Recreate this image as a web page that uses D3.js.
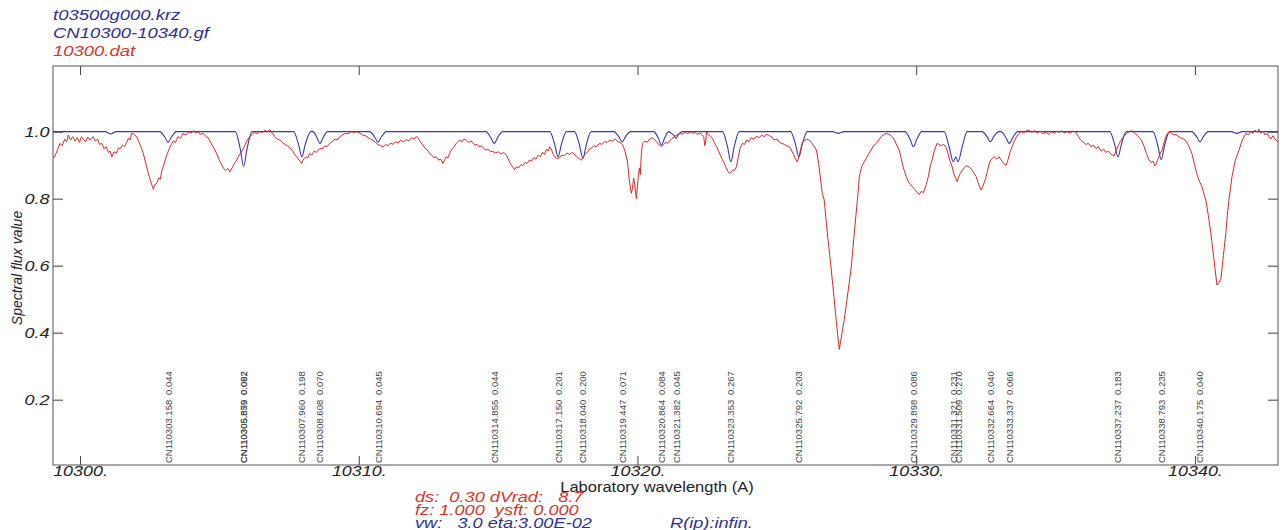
<!DOCTYPE html>
<html>
<head>
<meta charset="utf-8">
<script src="https://cdn.jsdelivr.net/npm/d3@7"></script>
<style>
  body { margin: 0; background: #fff; }
  text { font-family: "Liberation Sans", Arial, sans-serif; }
</style>
</head>
<body>
<div id="chart"></div>
<script>
// observed spectrum (10300.dat) : [wavelength, flux]
const observed = [
  [10299.05,.921],[10299.14,.935],[10299.20,.948],[10299.28,.965],[10299.36,.958],[10299.45,.978],
  [10299.52,.970],[10299.58,.990],[10299.66,.975],[10299.74,.985],[10299.82,.972],[10299.90,.982],
  [10299.98,.968],[10300.05,.985],[10300.11,.978],[10300.20,.970],[10300.28,.984],[10300.36,.975],
  [10300.47,.985],[10300.55,.972],[10300.63,.978],[10300.70,.962],[10300.78,.965],[10300.86,.950],
  [10300.94,.955],[10301.02,.938],[10301.08,.942],[10301.14,.925],[10301.22,.940],[10301.30,.935],
  [10301.38,.952],[10301.43,.948],[10301.52,.960],[10301.60,.955],[10301.67,.968],[10301.74,.980],
  [10301.80,.975],[10301.85,.995],[10301.93,.992],[10302.03,.985],[10302.12,.968],[10302.20,.952],
  [10302.27,.935],[10302.36,.905],[10302.45,.876],[10302.54,.850],[10302.60,.836],[10302.63,.828],
  [10302.68,.842],[10302.75,.845],[10302.82,.862],[10302.88,.858],[10302.93,.882],[10303.02,.905],
  [10303.11,.930],[10303.18,.945],[10303.26,.960],[10303.34,.972],[10303.42,.968],[10303.52,.985],
  [10303.60,.980],[10303.70,.995],[10303.80,.990],[10303.90,1.000],[10303.98,.995],[10304.06,1.003],
  [10304.15,.996],[10304.24,1.000],[10304.32,.992],[10304.42,.995],[10304.52,.985],[10304.60,.982],
  [10304.66,.972],[10304.74,.960],[10304.82,.948],[10304.90,.935],[10304.98,.918],[10305.06,.905],
  [10305.14,.892],[10305.22,.884],[10305.30,.890],[10305.38,.880],[10305.46,.892],[10305.54,.905],
  [10305.62,.915],[10305.70,.928],[10305.78,.938],[10305.85,.948],[10305.93,.962],[10306.00,.975],
  [10306.09,.985],[10306.18,.992],[10306.27,.998],[10306.36,.994],[10306.45,1.000],[10306.55,.998],
  [10306.64,1.004],[10306.72,1.000],[10306.81,1.006],[10306.90,.995],[10306.99,.985],[10307.08,.978],
  [10307.17,.975],[10307.26,.968],[10307.35,.962],[10307.44,.958],[10307.53,.952],[10307.62,.944],
  [10307.70,.932],[10307.78,.925],[10307.86,.915],[10307.95,.905],[10308.02,.918],[10308.10,.925],
  [10308.17,.922],[10308.24,.935],[10308.32,.930],[10308.40,.942],[10308.48,.938],[10308.60,.950],
  [10308.68,.948],[10308.78,.958],[10308.86,.955],[10308.96,.965],[10309.05,.970],[10309.14,.978],
  [10309.23,.975],[10309.32,.985],[10309.42,.990],[10309.52,.995],[10309.62,.994],[10309.74,1.000],
  [10309.84,.998],[10309.94,1.000],[10310.04,.995],[10310.14,.990],[10310.24,.988],[10310.34,.982],
  [10310.42,.978],[10310.51,.975],[10310.60,.968],[10310.68,.962],[10310.78,.958],[10310.87,.955],
  [10310.96,.962],[10311.05,.958],[10311.14,.966],[10311.23,.962],[10311.32,.970],[10311.41,.966],
  [10311.50,.974],[10311.60,.970],[10311.71,.976],[10311.80,.972],[10311.90,.982],[10311.98,.978],
  [10312.07,.985],[10312.14,.980],[10312.22,.968],[10312.30,.960],[10312.38,.950],[10312.46,.945],
  [10312.54,.935],[10312.62,.930],[10312.70,.922],[10312.78,.925],[10312.86,.915],[10312.94,.918],
  [10313.02,.905],[10313.08,.915],[10313.14,.925],[10313.20,.922],[10313.26,.935],[10313.34,.948],
  [10313.42,.955],[10313.50,.965],[10313.56,.970],[10313.62,.975],[10313.70,.970],[10313.78,.978],
  [10313.86,.975],[10313.94,.968],[10314.02,.972],[10314.09,.968],[10314.16,.960],[10314.24,.962],
  [10314.32,.955],[10314.40,.958],[10314.48,.950],[10314.56,.945],[10314.64,.948],[10314.72,.940],
  [10314.80,.942],[10314.90,.936],[10315.00,.940],[10315.10,.934],[10315.20,.938],[10315.30,.930],
  [10315.38,.915],[10315.46,.902],[10315.52,.895],[10315.59,.886],[10315.66,.895],[10315.74,.892],
  [10315.82,.902],[10315.88,.898],[10315.96,.908],[10316.04,.905],[10316.12,.915],[10316.20,.912],
  [10316.28,.922],[10316.36,.918],[10316.44,.930],[10316.52,.925],[10316.59,.938],[10316.66,.932],
  [10316.74,.948],[10316.80,.942],[10316.85,.955],[10316.92,.945],[10316.98,.932],[10317.03,.925],
  [10317.10,.920],[10317.20,.922],[10317.28,.930],[10317.36,.928],[10317.46,.936],[10317.56,.932],
  [10317.67,.938],[10317.76,.930],[10317.84,.925],[10317.92,.918],[10317.99,.915],[10318.06,.925],
  [10318.14,.935],[10318.22,.940],[10318.28,.948],[10318.36,.952],[10318.44,.958],[10318.52,.955],
  [10318.64,.965],[10318.72,.962],[10318.82,.970],[10318.92,.968],[10319.00,.975],[10319.10,.972],
  [10319.20,.978],[10319.30,.970],[10319.38,.968],[10319.46,.962],[10319.54,.945],[10319.60,.925],
  [10319.64,.910],[10319.70,.860],[10319.74,.835],[10319.78,.816],[10319.82,.830],[10319.86,.862],
  [10319.89,.850],[10319.93,.820],[10319.96,.800],[10320.00,.840],[10320.04,.875],[10320.07,.892],
  [10320.10,.872],[10320.14,.935],[10320.18,.965],[10320.26,.972],[10320.34,.968],[10320.44,.978],
  [10320.54,.982],[10320.62,.975],[10320.70,.968],[10320.78,.960],[10320.86,.955],[10320.94,.962],
  [10321.02,.968],[10321.08,.965],[10321.15,.972],[10321.24,.980],[10321.32,.985],[10321.42,.990],
  [10321.51,.995],[10321.60,.992],[10321.70,.998],[10321.80,.994],[10321.90,.999],[10321.97,.995],
  [10322.06,.998],[10322.14,.992],[10322.24,.996],[10322.33,.990],[10322.38,.985],[10322.41,.958],
  [10322.44,.965],[10322.48,1.000],[10322.54,.992],[10322.62,.985],[10322.69,.980],[10322.76,.968],
  [10322.84,.955],[10322.92,.940],[10322.98,.928],[10323.05,.916],[10323.12,.905],[10323.18,.892],
  [10323.24,.882],[10323.30,.876],[10323.36,.880],[10323.42,.886],[10323.48,.884],[10323.55,.895],
  [10323.62,.925],[10323.68,.950],[10323.76,.965],[10323.84,.962],[10323.92,.975],[10324.00,.970],
  [10324.08,.982],[10324.18,.978],[10324.27,.987],[10324.36,.982],[10324.46,.990],[10324.54,.985],
  [10324.64,.992],[10324.73,.988],[10324.82,.984],[10324.90,.975],[10325.00,.978],[10325.09,.968],
  [10325.18,.965],[10325.27,.962],[10325.36,.958],[10325.45,.955],[10325.52,.945],[10325.60,.932],
  [10325.66,.920],[10325.73,.910],[10325.80,.925],[10325.86,.950],[10325.92,.968],[10325.99,.972],
  [10326.06,.978],[10326.16,.975],[10326.24,.968],[10326.32,.958],[10326.42,.945],[10326.50,.905],
  [10326.58,.850],[10326.63,.816],[10326.70,.796],[10326.81,.698],[10326.94,.598],[10327.06,.498],
  [10327.15,.420],[10327.24,.350],[10327.33,.395],[10327.42,.440],[10327.55,.520],[10327.67,.596],
  [10327.78,.700],[10327.89,.796],[10327.96,.866],[10328.04,.895],[10328.12,.908],[10328.21,.920],
  [10328.30,.935],[10328.38,.945],[10328.47,.958],[10328.57,.965],[10328.66,.975],[10328.74,.985],
  [10328.82,.990],[10328.92,.995],[10329.02,.992],[10329.14,.985],[10329.22,.975],[10329.30,.960],
  [10329.39,.945],[10329.46,.920],[10329.54,.892],[10329.64,.866],[10329.72,.850],[10329.80,.842],
  [10329.86,.836],[10329.94,.828],[10330.02,.820],[10330.11,.812],[10330.18,.822],[10330.26,.818],
  [10330.36,.842],[10330.44,.868],[10330.50,.895],[10330.57,.916],[10330.64,.940],[10330.70,.955],
  [10330.75,.965],[10330.82,.962],[10330.90,.958],[10330.98,.962],[10331.08,.952],[10331.14,.935],
  [10331.20,.915],[10331.29,.895],[10331.36,.872],[10331.42,.860],[10331.47,.851],[10331.52,.865],
  [10331.58,.875],[10331.65,.885],[10331.72,.892],[10331.80,.898],[10331.90,.895],[10331.98,.888],
  [10332.06,.878],[10332.15,.866],[10332.22,.848],[10332.28,.835],[10332.33,.826],[10332.38,.835],
  [10332.44,.848],[10332.51,.866],[10332.58,.892],[10332.65,.912],[10332.72,.920],[10332.80,.926],
  [10332.88,.918],[10332.97,.925],[10333.05,.915],[10333.14,.905],[10333.23,.900],[10333.30,.918],
  [10333.37,.940],[10333.44,.955],[10333.52,.972],[10333.60,.985],[10333.69,.995],[10333.78,1.000],
  [10333.86,.996],[10333.96,1.004],[10334.05,1.005],[10334.14,.998],[10334.24,1.003],[10334.34,.996],
  [10334.44,1.002],[10334.54,.994],[10334.66,.998],[10334.76,.992],[10334.86,1.000],[10334.96,.995],
  [10335.05,1.002],[10335.13,.998],[10335.22,1.002],[10335.32,.996],[10335.42,1.000],[10335.52,.995],
  [10335.62,1.002],[10335.73,.998],[10335.82,.985],[10335.90,.975],[10336.00,.968],[10336.09,.962],
  [10336.18,.965],[10336.27,.955],[10336.36,.960],[10336.45,.950],[10336.54,.955],[10336.63,.942],
  [10336.72,.948],[10336.81,.938],[10336.90,.942],[10337.00,.932],[10337.10,.928],[10337.18,.945],
  [10337.26,.960],[10337.32,.970],[10337.38,.978],[10337.46,.988],[10337.56,.995],[10337.64,1.000],
  [10337.74,1.003],[10337.84,.995],[10337.94,.988],[10338.02,.980],[10338.10,.972],[10338.18,.955],
  [10338.26,.935],[10338.34,.918],[10338.42,.908],[10338.50,.912],[10338.56,.898],[10338.60,.902],
  [10338.66,.915],[10338.74,.932],[10338.82,.945],[10338.90,.970],[10338.98,.990],[10339.07,1.000],
  [10339.16,.995],[10339.25,.990],[10339.34,.992],[10339.43,.984],[10339.52,.980],[10339.60,.978],
  [10339.68,.972],[10339.76,.960],[10339.83,.948],[10339.89,.935],[10339.98,.905],[10340.06,.875],
  [10340.16,.852],[10340.25,.836],[10340.32,.815],[10340.39,.796],[10340.48,.750],[10340.57,.698],
  [10340.68,.620],[10340.79,.542],[10340.86,.548],[10340.93,.560],[10341.02,.630],[10341.11,.698],
  [10341.16,.750],[10341.22,.796],[10341.33,.866],[10341.45,.915],[10341.58,.945],[10341.70,.975],
  [10341.83,.995],[10341.92,.990],[10342.00,1.000],[10342.08,.995],[10342.16,1.005],[10342.24,.998],
  [10342.29,1.008],[10342.36,.995],[10342.44,1.002],[10342.52,.990],[10342.60,.995],[10342.65,.985],
  [10342.72,.978],[10342.80,.988],[10342.90,.975],[10342.98,.970]
];

// synthetic spectrum (t03500g000.krz + CN10300-10340.gf) : [wavelength, flux]
const synthetic = [
  [10299.03,1.000],[10300.90,1.000],[10301.10,0.993],[10301.30,1.000],
  [10302.86,1.000],[10303.04,0.984],[10303.16,0.968],[10303.28,0.984],[10303.46,1.000],
  [10305.57,1.000],[10305.75,0.948],[10305.87,0.896],[10305.99,0.948],[10306.17,1.000],
  [10307.66,1.000],[10307.84,0.962],[10307.96,0.925],[10308.08,0.962],[10308.28,1.000],
  [10308.36,1.000],[10308.50,0.982],[10308.61,0.965],[10308.72,0.982],[10308.88,1.000],
  [10310.39,1.000],[10310.57,0.984],[10310.69,0.968],[10310.81,0.984],[10310.99,1.000],
  [10314.56,1.000],[10314.74,0.982],[10314.86,0.965],[10314.98,0.982],[10315.16,1.000],
  [10316.85,1.000],[10317.03,0.962],[10317.15,0.925],[10317.27,0.962],[10317.45,1.000],
  [10317.74,1.000],[10317.92,0.960],[10318.04,0.920],[10318.16,0.960],[10318.34,1.000],
  [10319.15,1.000],[10319.33,0.985],[10319.45,0.970],[10319.57,0.985],[10319.75,1.000],
  [10320.58,1.000],[10320.75,0.980],[10320.86,0.960],[10320.97,0.980],[10321.12,1.000],
  [10321.22,0.995],[10321.30,0.990],[10321.38,0.980],[10321.46,0.990],[10321.62,1.000],
  [10323.05,1.000],[10323.23,0.955],[10323.35,0.910],[10323.47,0.955],[10323.65,1.000],
  [10325.49,1.000],[10325.67,0.962],[10325.79,0.925],[10325.91,0.962],[10326.09,1.000],
  [10327.00,1.000],[10327.20,0.995],[10327.40,1.000],
  [10329.60,1.000],[10329.78,0.977],[10329.90,0.955],[10330.02,0.977],[10330.20,1.000],
  [10331.00,1.000],[10331.18,0.955],[10331.33,0.910],[10331.42,0.925],[10331.50,0.910],
  [10331.65,0.955],[10331.83,1.000],
  [10332.36,1.000],[10332.54,0.985],[10332.66,0.970],[10332.78,0.985],[10332.96,1.000],
  [10333.04,1.000],[10333.22,0.982],[10333.34,0.965],[10333.46,0.982],[10333.64,1.000],
  [10336.94,1.000],[10337.12,0.962],[10337.24,0.925],[10337.36,0.962],[10337.54,1.000],
  [10338.49,1.000],[10338.67,0.958],[10338.79,0.916],[10338.91,0.958],[10339.09,1.000],
  [10339.88,1.000],[10340.06,0.985],[10340.18,0.970],[10340.30,0.985],[10340.48,1.000],
  [10341.30,1.000],[10341.50,0.995],[10341.70,1.000],[10342.98,1.000]
];

// line identifications
const lineWave = [10303.158,10305.859,10305.879,10307.960,10308.608,10310.694,10314.855,
  10317.150,10318.040,10319.447,10320.864,10321.382,10323.353,10325.792,10329.898,
  10331.321,10331.509,10332.664,10333.337,10337.237,10338.793,10340.175];
const lineId = lineWave.map(w => "CN1" + w.toFixed(3));
const lineStrength = ["0.044","0.062","0.092","0.198","0.070","0.045","0.044","0.201","0.200",
  "0.071","0.084","0.045","0.267","0.203","0.086","0.231","0.270","0.040","0.066","0.183",
  "0.235","0.040"];

const xTicks = [10300, 10310, 10320, 10330, 10340];
const yTicks = [0.2, 0.4, 0.6, 0.8, 1.0];
const fileNames = ["t03500g000.krz", "CN10300-10340.gf", "10300.dat"];
const paramLines = ["ds:  0.30 dVrad:   8.7", "fz: 1.000  ysft: 0.000", "vw:   3.0 eta:3.00E-02"];
const resolution = "R(ip):infin.";

const width = 1282, height = 530;
const plotLeft = 53, plotRight = 1278, plotTop = 66, plotBottom = 465;
const blue = "#3a3aa0", red = "#d42a2a", blueText = "#2e3192", redText = "#d9342b";

const svg = d3.select("#chart").append("svg")
  .attr("width", width).attr("height", height);

const x = d3.scaleLinear().domain([10299.03, 10342.98]).range([plotLeft, plotRight]);
const y = d3.scaleLinear().domain([0.005, 1.196]).range([plotBottom, plotTop]);

// file names, top left
svg.append("g").selectAll("text")
  .data(fileNames)
  .enter().append("text")
  .attr("transform", (d, i) => `translate(${plotLeft},${20 + i * 18}) scale(1.32,1)`)
  .attr("fill", (d, i) => i < 2 ? blueText : redText)
  .style("font-size", "14px").style("font-style", "italic")
  .text(d => d);

// axes, ticks pointing inward
const bottomAxis = svg.append("g")
  .attr("transform", `translate(0,${plotBottom})`)
  .call(d3.axisBottom(x).tickValues(xTicks).tickSize(-9).tickSizeOuter(0)
    .tickPadding(1).tickFormat(d => d + "."));
bottomAxis.selectAll("text")
  .attr("transform", `scale(1.28,1)`)
  .style("font-size", "14px").style("font-style", "italic").attr("fill", "#222");

const leftAxis = svg.append("g")
  .attr("transform", `translate(${plotLeft},0)`)
  .call(d3.axisLeft(y).tickValues(yTicks).tickSize(-10).tickSizeOuter(0)
    .tickPadding(3).tickFormat(d3.format(".1f")));
leftAxis.selectAll("text")
  .attr("transform", `scale(1.2,1)`)
  .style("font-size", "15px").style("font-style", "italic").attr("fill", "#222");

svg.append("g").attr("transform", `translate(0,${plotTop})`)
  .call(d3.axisTop(x).tickValues(xTicks).tickSize(-9).tickSizeOuter(0).tickFormat(""));
svg.append("g").attr("transform", `translate(${plotRight},0)`)
  .call(d3.axisRight(y).tickValues(yTicks).tickSize(-10).tickSizeOuter(0).tickFormat(""));

svg.selectAll(".domain").remove();
svg.selectAll(".tick line").attr("stroke", "#444");

svg.append("rect")
  .attr("x", plotLeft).attr("y", plotTop)
  .attr("width", plotRight - plotLeft).attr("height", plotBottom - plotTop)
  .attr("fill", "none").attr("stroke", "#555").attr("stroke-width", 1);

// line identification labels
const labels = svg.append("g").selectAll("g")
  .data(lineWave)
  .enter().append("g")
  .attr("fill", "#444")
  .style("font-size", "9.5px");
labels.append("text")
  .attr("transform", d => `translate(${x(d) + 3.5},${plotBottom - 2}) rotate(-90)`)
  .text((d, i) => lineId[i]);
labels.append("text")
  .attr("transform", d => `translate(${x(d) + 3.5},${plotBottom - 70}) rotate(-90)`)
  .text((d, i) => lineStrength[i]);

// spectra
svg.append("clipPath").attr("id", "plotclip")
  .append("rect").attr("x", plotLeft).attr("y", plotTop)
  .attr("width", plotRight - plotLeft).attr("height", plotBottom - plotTop);

const synLine = d3.line().x(d => x(d[0])).y(d => y(d[1])).curve(d3.curveMonotoneX);
const obsLine = d3.line().x(d => x(d[0])).y(d => y(d[1]));

svg.append("path")
  .datum(synthetic)
  .attr("clip-path", "url(#plotclip)")
  .attr("d", synLine)
  .attr("fill", "none").attr("stroke", blue).attr("stroke-width", 1.1);

svg.append("path")
  .datum(observed)
  .attr("clip-path", "url(#plotclip)")
  .attr("d", obsLine)
  .attr("fill", "none").attr("stroke", red).attr("stroke-width", 1);

// axis titles
svg.append("text")
  .attr("transform", `translate(657,492) scale(1.18,1)`)
  .attr("text-anchor", "middle")
  .attr("fill", "#222")
  .style("font-size", "14px")
  .text("Laboratory wavelength (A)");

svg.append("text")
  .attr("transform", `translate(22,268) rotate(-90)`)
  .attr("text-anchor", "middle")
  .attr("fill", "#222")
  .style("font-size", "14px").style("font-style", "italic")
  .text("Spectral flux value");

// fit parameters, bottom
svg.append("g").selectAll("text")
  .data(paramLines)
  .enter().append("text")
  .attr("transform", (d, i) => `translate(415,${502 + i * 13}) scale(1.3,1)`)
  .attr("fill", (d, i) => i < 2 ? redText : blueText)
  .attr("xml:space", "preserve")
  .style("white-space", "pre")
  .style("font-size", "14px").style("font-style", "italic")
  .text(d => d);

svg.append("text")
  .attr("transform", `translate(670,528) scale(1.3,1)`)
  .attr("fill", blueText)
  .style("font-size", "14px").style("font-style", "italic")
  .text(resolution);
</script>
</body>
</html>
